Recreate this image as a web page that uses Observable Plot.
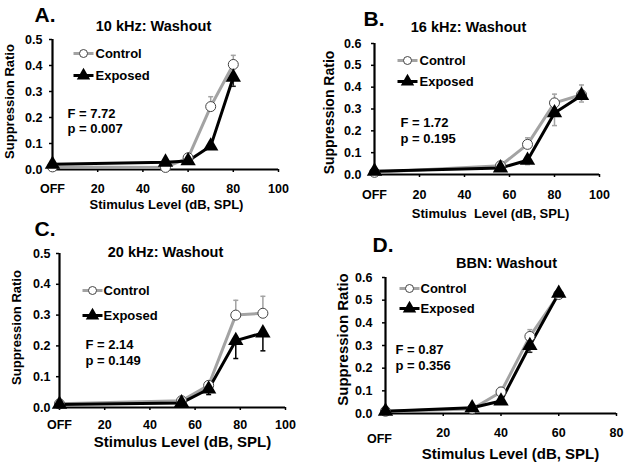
<!DOCTYPE html>
<html><head><meta charset="utf-8">
<script src="https://cdn.jsdelivr.net/npm/d3@7"></script>
<script src="https://cdn.jsdelivr.net/npm/@observablehq/plot@0.6"></script>
<style>
body{margin:0;background:#fff;}
#wrap{position:relative;width:627px;height:473px;overflow:hidden;background:#fff;}
.panel{position:absolute;}
</style></head><body><div id="wrap"></div>
<script>
// ---------- data ----------
const xTicks100 = [0, 20, 40, 60, 80, 100];
const xTickLabels100 = ["OFF", "20", "40", "60", "80", "100"];
const xTicks80 = [20, 40, 60, 80];
const xTickLabels80 = ["20", "40", "60", "80"];
const yTicks05 = [0, 0.1, 0.2, 0.3, 0.4, 0.5];
const yTicks06 = [0, 0.1, 0.2, 0.3, 0.4, 0.5, 0.6];
const seriesNames = ["Control", "Exposed"];

// A. 10 kHz
const levelsA = [0, 50, 60, 70, 80];
const controlA = [0.010, 0.008, 0.045, 0.242, 0.404];
const controlErrA = [0, 0, 0, 0.038, 0.035];
const exposedA = [0.020, 0.028, 0.033, 0.090, 0.355];
const exposedErrA = [0, 0, 0, 0.012, 0.035];
// B. 16 kHz
const levelsB = [0, 56, 68, 80, 92];
const controlB = [0.010, 0.040, 0.138, 0.328, 0.365];
const controlErrB = [0, 0, 0.030, 0.040, 0.045];
const exposedB = [0.015, 0.030, 0.065, 0.282, 0.362];
const exposedErrB = [0, 0, 0.020, 0.058, 0.030];
// C. 20 kHz
const levelsC = [0, 54, 66, 78, 90];
const controlC = [0.012, 0.022, 0.072, 0.300, 0.306];
const controlErrC = [0, 0, 0.010, 0.048, 0.055];
const exposedC = [0.010, 0.015, 0.060, 0.217, 0.242];
const exposedErrC = [0, 0, 0.018, 0.058, 0.058];
// D. BBN
const levelsD = [0, 30, 40, 50, 60];
const controlD = [0.010, 0.020, 0.095, 0.340, 0.525];
const controlErrD = [0, 0, 0.020, 0.030, 0.010];
const exposedD = [0.010, 0.025, 0.055, 0.300, 0.530];
const exposedErrD = [0, 0, 0.010, 0.030, 0.010];

const titles = ["10 kHz: Washout", "16 kHz: Washout", "20 kHz: Washout", "BBN: Washout"];
const letters = ["A.", "B.", "C.", "D."];
const statsF = ["F = 7.72", "F = 1.72", "F = 2.14", "F = 0.87"];
const statsP = ["p = 0.007", "p = 0.195", "p = 0.149", "p = 0.356"];
const xLabels = ["Stimulus Level (dB, SPL)", "Stimulus  Level (dB, SPL)", "Stimulus Level (dB, SPL)", "Stimulus Level (dB, SPL)"];
const yLabel = "Suppression Ratio";

// ---------- drawing ----------
const FONT = '"Liberation Sans", Arial, Helvetica, sans-serif';
const GRAY = "#a3a3a3";
const hline = {draw(ctx, size) { const r = Math.sqrt(size / Math.PI); ctx.moveTo(-r, 0); ctx.lineTo(r, 0); }};

function panel(cfg) {
  const data = cfg.levels.map((x, i) => ({x, c: cfg.control[i], ce: cfg.controlErr[i], e: cfg.exposed[i], ee: cfg.exposedErr[i]}));
  const ox = cfg.left + cfg.mL, oy = cfg.top + cfg.mT;
  const ann = (t, ax, ay, o = {}) => Plot.text([t], {frameAnchor: "top-left", dx: ax - ox, dy: ay - oy, text: d => d, fill: "black", fontWeight: "bold", fontFamily: FONT, textAnchor: "middle", lineAnchor: "middle", ...o});
  const sym = (ax, ay, o) => Plot.dot([0], {frameAnchor: "top-left", dx: ax - ox, dy: ay - oy, ...o});
  const L = cfg.legend;
  const marks = [
    Plot.axisY({ticks: cfg.yTicks, tickFormat: d3.format(".1f"), tickSize: 3, tickPadding: cfg.yPad, strokeWidth: 1.5, fontSize: 12.5, fontWeight: "bold", label: null}),
    Plot.axisX({ticks: cfg.xTicks, tickFormat: d => cfg.xTickLabels[cfg.xTicks.indexOf(d)], tickSize: 3, tickPadding: cfg.xPad, strokeWidth: 1.5, fontSize: 12.5, fontWeight: "bold", label: null}),
    Plot.ruleY([0], {strokeWidth: 2.2}),
    Plot.ruleX([0], {strokeWidth: 2.2}),
    // control error bars (up)
    Plot.ruleX(data.filter(d => d.ce > 0), {x: "x", y1: "c", y2: d => d.c + d.ce, stroke: GRAY, strokeWidth: 1.5}),
    Plot.dot(data.filter(d => d.ce > 0), {x: "x", y: d => d.c + d.ce, symbol: hline, r: 2.5, fill: "none", stroke: GRAY, strokeWidth: 1.5}),
    // exposed error bars (down)
    Plot.ruleX(data.filter(d => d.ee > 0), {x: "x", y1: "e", y2: d => d.e - d.ee, stroke: cfg.expErrColor, strokeWidth: 1.5}),
    Plot.dot(data.filter(d => d.ee > 0), {x: "x", y: d => d.e - d.ee, symbol: hline, r: 2.5, fill: "none", stroke: cfg.expErrColor, strokeWidth: 1.5}),
    Plot.line(data, {x: "x", y: "c", stroke: GRAY, strokeWidth: 3}),
    Plot.line(data, {x: "x", y: "e", stroke: "black", strokeWidth: 3}),
    Plot.dot(data, {x: "x", y: "c", r: 5, fill: "white", stroke: "#444", strokeWidth: 1}),
    Plot.dot(data, {x: "x", y: "e", symbol: "triangle", r: 5.7, fill: "black"}),
    // legend
    sym(L.x, L.y1, {symbol: hline, r: 10, fill: "none", stroke: GRAY, strokeWidth: 3}),
    sym(L.x, L.y1, {r: 4, fill: "white", stroke: "#444", strokeWidth: 1}),
    ann(seriesNames[0], L.tx, L.y1, {textAnchor: "start", fontSize: 13}),
    sym(L.x, L.y2, {symbol: hline, r: 10, fill: "none", stroke: "black", strokeWidth: 3}),
    sym(L.x, L.y2, {symbol: "triangle", r: 5, fill: "black"}),
    ann(seriesNames[1], L.tx, L.y2, {textAnchor: "start", fontSize: 13}),
    // annotations
    ann(statsF[cfg.i], cfg.stats[0], cfg.stats[1], {textAnchor: "start", fontSize: 13}),
    ann(statsP[cfg.i], cfg.stats[0], cfg.stats[2], {textAnchor: "start", fontSize: 13}),
    ann(titles[cfg.i], cfg.title[0], cfg.title[1], {fontSize: 14.5}),
    ann(letters[cfg.i], cfg.letter[0], cfg.letter[1], {textAnchor: "start", fontSize: 21}),
    ann(xLabels[cfg.i], cfg.xlab[0], cfg.xlab[1], {fontSize: cfg.labSize}),
    ann(yLabel, cfg.ylab[0], cfg.ylab[1], {fontSize: cfg.yLabSize, rotate: -90})
  ];
  if (cfg.offAxis) marks.push(Plot.axisX({ticks: [0], tickFormat: () => "OFF", tickSize: 0, tickPadding: 21, dx: -6, fontSize: 12.5, fontWeight: "bold", label: null}));
  const svg = Plot.plot({
    width: cfg.width, height: cfg.height,
    marginLeft: cfg.mL, marginRight: cfg.mR, marginTop: cfg.mT, marginBottom: cfg.mB,
    x: {domain: [0, cfg.xMax]},
    y: {domain: [0, cfg.yMax]},
    style: {fontFamily: FONT, color: "black", background: "transparent", overflow: "visible"},
    marks
  });
  const div = document.createElement("div");
  div.className = "panel";
  div.style.left = cfg.left + "px"; div.style.top = cfg.top + "px";
  div.appendChild(svg);
  document.getElementById("wrap").appendChild(div);
}

panel({i: 0, left: 0, top: 0, width: 314, height: 236, mL: 52, mR: 36, mT: 39, mB: 67, xMax: 100, yMax: 0.5,
  levels: levelsA, control: controlA, controlErr: controlErrA, exposed: exposedA, exposedErr: exposedErrA, expErrColor: "#222",
  xTicks: xTicks100, xTickLabels: xTickLabels100, yTicks: yTicks05, xPad: 11.5, yPad: 7,
  legend: {x: 83, y1: 53, y2: 75, tx: 95}, stats: [67, 113, 128], title: [153, 26], letter: [34, 15],
  xlab: [166, 204], labSize: 13, ylab: [9, 101], yLabSize: 13});

panel({i: 1, left: 314, top: 0, width: 313, height: 236, mL: 60, mR: 28, mT: 43, mB: 62, xMax: 100, yMax: 0.6,
  levels: levelsB, control: controlB, controlErr: controlErrB, exposed: exposedB, exposedErr: exposedErrB, expErrColor: GRAY,
  xTicks: xTicks100, xTickLabels: xTickLabels100, yTicks: yTicks06, xPad: 13, yPad: 10,
  legend: {x: 407, y1: 60, y2: 81, tx: 419}, stats: [400, 122, 138], title: [468, 27], letter: [363, 18.5],
  xlab: [490, 213], labSize: 13, ylab: [329, 112], yLabSize: 14});

panel({i: 2, left: 0, top: 236, width: 314, height: 237, mL: 59, mR: 29, mT: 17, mB: 66, xMax: 100, yMax: 0.5,
  levels: levelsC, control: controlC, controlErr: controlErrC, exposed: exposedC, exposedErr: exposedErrC, expErrColor: "black",
  xTicks: xTicks100, xTickLabels: xTickLabels100, yTicks: yTicks05, xPad: 10, yPad: 6,
  legend: {x: 92, y1: 290, y2: 315, tx: 103}, stats: [85, 344, 360], title: [165, 252], letter: [34, 229],
  xlab: [182, 442], labSize: 15, ylab: [16, 327], yLabSize: 13});

panel({i: 3, left: 314, top: 236, width: 313, height: 237, mL: 71, mR: 11, mT: 41, mB: 60, xMax: 80, yMax: 0.6,
  levels: levelsD, control: controlD, controlErr: controlErrD, exposed: exposedD, exposedErr: exposedErrD, expErrColor: "#222",
  xTicks: xTicks80, xTickLabels: xTickLabels80, yTicks: yTicks06, xPad: 12, yPad: 10, offAxis: true,
  legend: {x: 409, y1: 288, y2: 308, tx: 420}, stats: [395, 349, 365], title: [506, 263], letter: [372, 245],
  xlab: [510, 454], labSize: 15, ylab: [343, 339], yLabSize: 15});
</script>
</body></html>
